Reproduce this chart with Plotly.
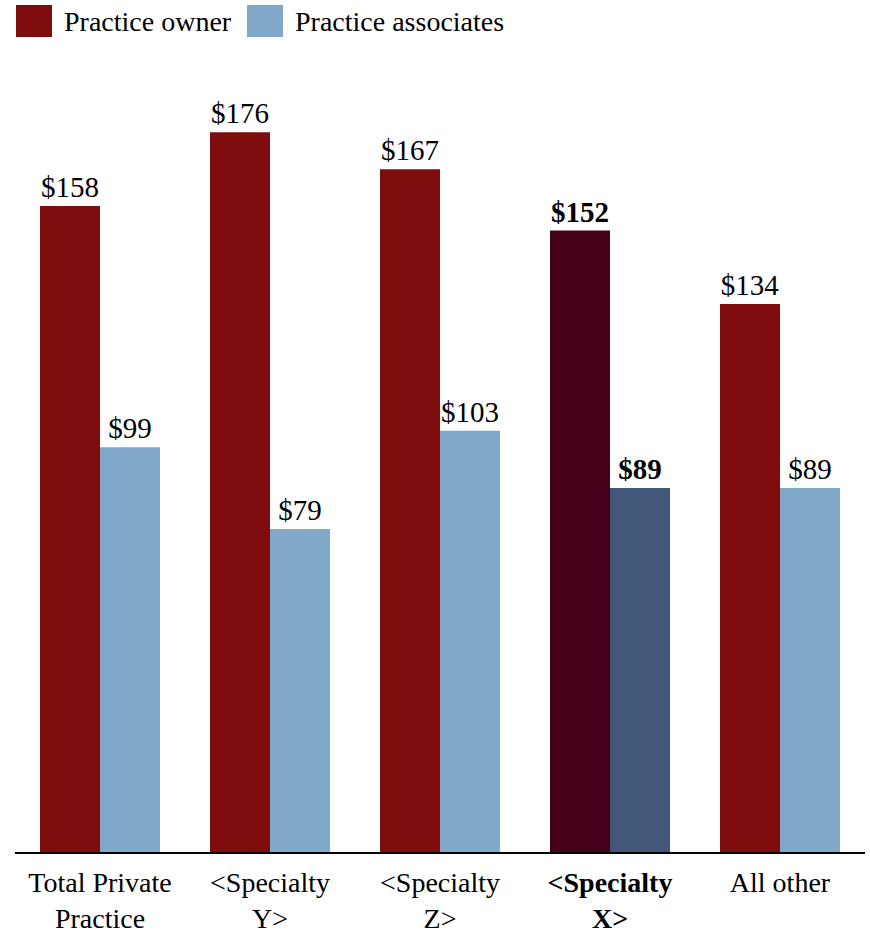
import plotly.graph_objects as go

# Hourly rates by practice type
categories = ["Total Private<br>Practice", "&lt;Specialty<br>Y&gt;", "&lt;Specialty<br>Z&gt;",
              "<b>&lt;Specialty<br>X&gt;</b>", "All other"]
owner_values = [158, 176, 167, 152, 134]
associate_values = [99, 79, 103, 89, 89]
highlight_index = 3

series_names = ["Practice owner", "Practice associates"]
owner_color, owner_highlight = "#7f0d0e", "#440018"
assoc_color, assoc_highlight = "#7fa8c9", "#435878"

FONT = "Times New Roman, Liberation Serif, serif"
W, H = 870, 933
M_L, M_R, M_T, M_B = 15, 5, 60, 81
plot_h = H - M_T - M_B


def labels(values):
    out = []
    for i, v in enumerate(values):
        t = f"${v}"
        out.append(f"<b>{t}</b>" if i == highlight_index else t)
    return out


def colors(values, base, hi):
    return [hi if i == highlight_index else base for i in range(len(values))]


x = list(range(len(categories)))

fig = go.Figure()
for vals, name, base, hi in [
    (owner_values, series_names[0], owner_color, owner_highlight),
    (associate_values, series_names[1], assoc_color, assoc_highlight),
]:
    fig.add_trace(go.Bar(
        x=x, y=vals, name=name,
        marker=dict(color=colors(vals, base, hi), line=dict(width=0)),
        text=labels(vals), textposition="outside", constraintext="none",
        textfont=dict(family=FONT, size=29, color="black"),
        cliponaxis=False, showlegend=False,
    ))

fig.update_layout(
    width=W, height=H,
    margin=dict(l=M_L, r=M_R, t=M_T, b=M_B),
    barmode="group", bargap=50 / 170, bargroupgap=0,
    plot_bgcolor="white", paper_bgcolor="white",
    font=dict(family=FONT, color="black"),
    xaxis=dict(
        tickmode="array", tickvals=x, ticktext=categories,
        range=[-0.5, len(categories) - 0.5],
        showline=True, linecolor="black", linewidth=2,
        ticks="", showgrid=False, zeroline=False,
        ticklabelstandoff=4, automargin=False,
        tickfont=dict(family=FONT, size=28, color="black"),
    ),
    yaxis=dict(range=[0, 193.7], visible=False, showgrid=False, zeroline=False),
)

# Custom legend with large swatches above the plot area
def py_to_paper(py):
    return (H - M_B - py) / plot_h


def px_to_paper(px):
    return (px - M_L) / (W - M_L - M_R)


legend_items = [
    (series_names[0], owner_color, 16),
    (series_names[1], assoc_color, 247),
]
for name, col, left in legend_items:
    fig.add_shape(type="rect", xref="paper", yref="paper",
                  x0=px_to_paper(left), x1=px_to_paper(left + 36),
                  y0=py_to_paper(37), y1=py_to_paper(5),
                  fillcolor=col, line=dict(width=0), layer="above")
    fig.add_annotation(xref="paper", yref="paper",
                       x=px_to_paper(left + 46), y=py_to_paper(22),
                       xanchor="left", yanchor="middle", showarrow=False,
                       text=name, font=dict(family=FONT, size=28, color="black"))

fig.write_html("out.html")
